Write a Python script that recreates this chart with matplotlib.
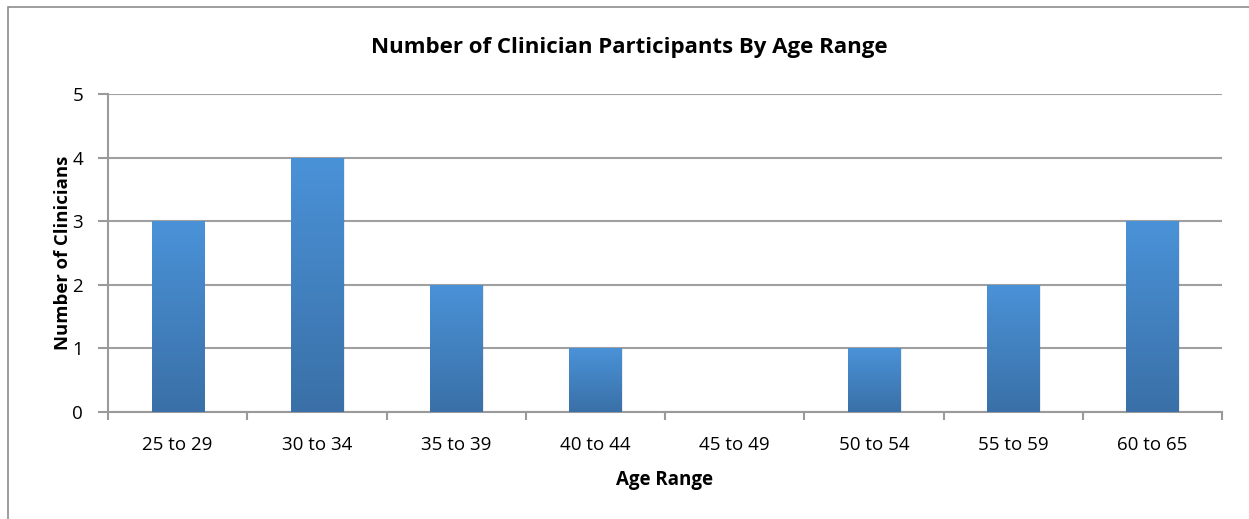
import matplotlib
matplotlib.use("Agg")
import matplotlib.pyplot as plt
import numpy as np
from matplotlib.patches import Rectangle
from matplotlib.colors import LinearSegmentedColormap

categories = ["25 to 29", "30 to 34", "35 to 39", "40 to 44", "45 to 49", "50 to 54", "55 to 59", "60 to 65"]
counts = [3, 4, 2, 1, 0, 1, 2, 3]
yticks = [0, 1, 2, 3, 4, 5]

plt.rcParams['font.family'] = ['Open Sans', 'DejaVu Sans']

W, H = 1249, 519
fig = plt.figure(figsize=(W/100, H/100), dpi=100)
fig.patch.set_facecolor("white")

# outer frame
fig.patches.append(Rectangle((8/W, -0.5), 1.5, 1.5 - 7/H, transform=fig.transFigure,
                             fill=False, edgecolor="#8c8c8c", linewidth=1.2))

ax = fig.add_axes([108/W, 1-412/H, (1222-108)/W, (412-94)/H])
x = np.arange(len(categories))
bars = ax.bar(x, counts, width=0.375, color="#4189cf", zorder=3)

cmap = LinearSegmentedColormap.from_list("g", ["#3a70a7", "#4a92d8"])
grad = np.linspace(0, 1, 256).reshape(-1, 1)
for b in bars:
    h = b.get_height()
    if h <= 0:
        continue
    x0 = b.get_x(); w = b.get_width()
    ax.add_patch(Rectangle((x0 + 0.012, 0), w, h, facecolor="#000000", alpha=0.08,
                           edgecolor="none", zorder=2.5))
    im = ax.imshow(grad, extent=[x0, x0 + w, 0, h], origin="lower", cmap=cmap,
                   aspect="auto", zorder=4)
    im.set_clip_path(b)

ax.set_xlim(-0.5, len(categories) - 0.5)
ax.set_ylim(0, 5)
ax.set_yticks(yticks)
ax.set_yticklabels([str(v) for v in yticks], fontsize=13.5)
ax.set_xticks(x)
ax.set_xticklabels(categories, fontsize=13.5)
ax.set_xticks(np.arange(len(categories) + 1) - 0.5, minor=True)
ax.tick_params(axis="x", which="major", length=0, pad=17)
ax.tick_params(axis="x", which="minor", length=6, width=1.5, color="#9a9a9a")
ax.tick_params(axis="y", length=7, width=1.5, color="#9a9a9a", pad=11)
ax.yaxis.grid(True, color="#a0a0a0", linewidth=1.5, zorder=0)
ax.set_axisbelow(True)
for s in ["top", "right"]:
    ax.spines[s].set_visible(False)
for s in ["left", "bottom"]:
    ax.spines[s].set_color("#9a9a9a")
    ax.spines[s].set_linewidth(1.5)

ax.set_xlabel("Age Range", fontsize=13.5, fontweight="bold", labelpad=12)
ax.set_ylabel("Number of Clinicians", fontsize=13.3, fontweight="bold", labelpad=0)
fig.text(629/W, 1 - 48/H, "Number of Clinician Participants By Age Range",
         ha="center", va="center", fontsize=16, fontweight="bold")

fig.savefig("out.png", dpi=100)
